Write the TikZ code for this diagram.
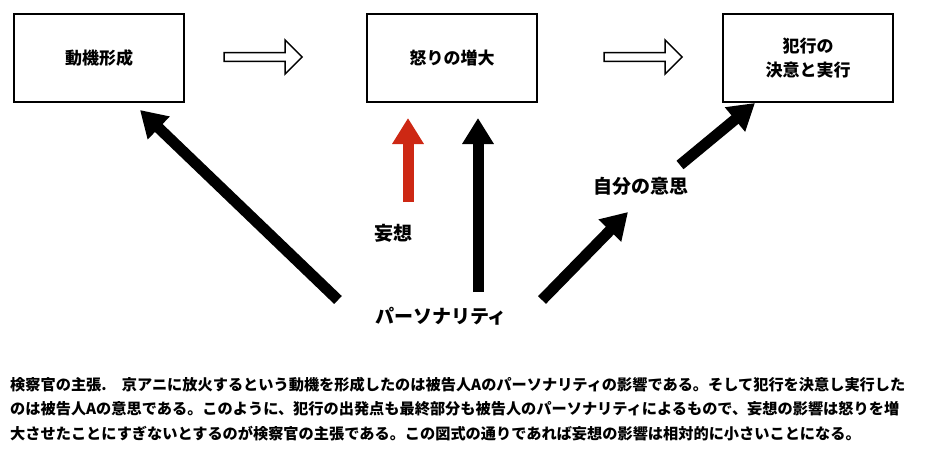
\documentclass[tikz,border=0pt]{standalone}
\usepackage{fontspec}
\setmainfont{Noto Sans CJK JP}
\usetikzlibrary{arrows.meta,shapes.arrows}
\begin{document}
\begin{tikzpicture}[x=1pt,y=-1pt,
  box/.style={draw,line width=1.5pt,minimum width=170pt,minimum height=88pt,font=\fontsize{17}{24}\selectfont\bfseries,align=center},
  hollow/.style={single arrow,draw,line width=1.5pt,minimum width=34pt,single arrow head extend=8pt,minimum height=78pt,inner sep=2pt},
  big/.style={line width=11pt,-{Triangle[length=26pt,width=30pt]}},
  lab/.style={font=\fontsize{19}{24}\selectfont\bfseries}]
\useasboundingbox (0,0) rectangle (926,456);
\node[box] (b1) at (99,58) {動機形成};
\node[box] (b2) at (452,58) {怒りの増大};
\node[box] (b3) at (808,58) {犯行の\\決意と実行};
\node[hollow] (h1) at (261,57) {};
\node[hollow] (h2) at (641,57) {};
\node[lab] (p) at (441,316) {パーソナリティ};
\node[lab] (m) at (393,233) {妄想};
\node[lab] (j) at (641,186) {自分の意思};
\coordinate (p1) at (338,300);
\coordinate (t1) at (140,110);
\coordinate (p2) at (478,292);
\coordinate (t2) at (478,118);
\coordinate (r1) at (408,202);
\coordinate (rt) at (408,118);
\coordinate (p3) at (542,300);
\coordinate (t3) at (628,212);
\coordinate (j1) at (680,165);
\coordinate (t4) at (755,103);
\draw[big] (p1) -- (t1);
\draw[big] (p2) -- (t2);
\draw[big,draw={rgb,255:red,205;green,40;blue,20},fill={rgb,255:red,205;green,40;blue,20}] (r1) -- (rt);
\draw[big] (p3) -- (t3);
\draw[big] (j1) -- (t4);
\node[anchor=north west,align=left,inner sep=0pt,font=\fontsize{15.2}{24.5}\selectfont\bfseries] (txt) at (10,377) {検察官の主張.\quad 京アニに放火するという動機を形成したのは被告人Aのパーソナリティの影響である。そして犯行を決意し実行した\\のは被告人Aの意思である。このように、犯行の出発点も最終部分も被告人のパーソナリティによるもので、妄想の影響は怒りを増\\大させたことにすぎないとするのが検察官の主張である。この図式の通りであれば妄想の影響は相対的に小さいことになる。};
\end{tikzpicture}
\end{document}
